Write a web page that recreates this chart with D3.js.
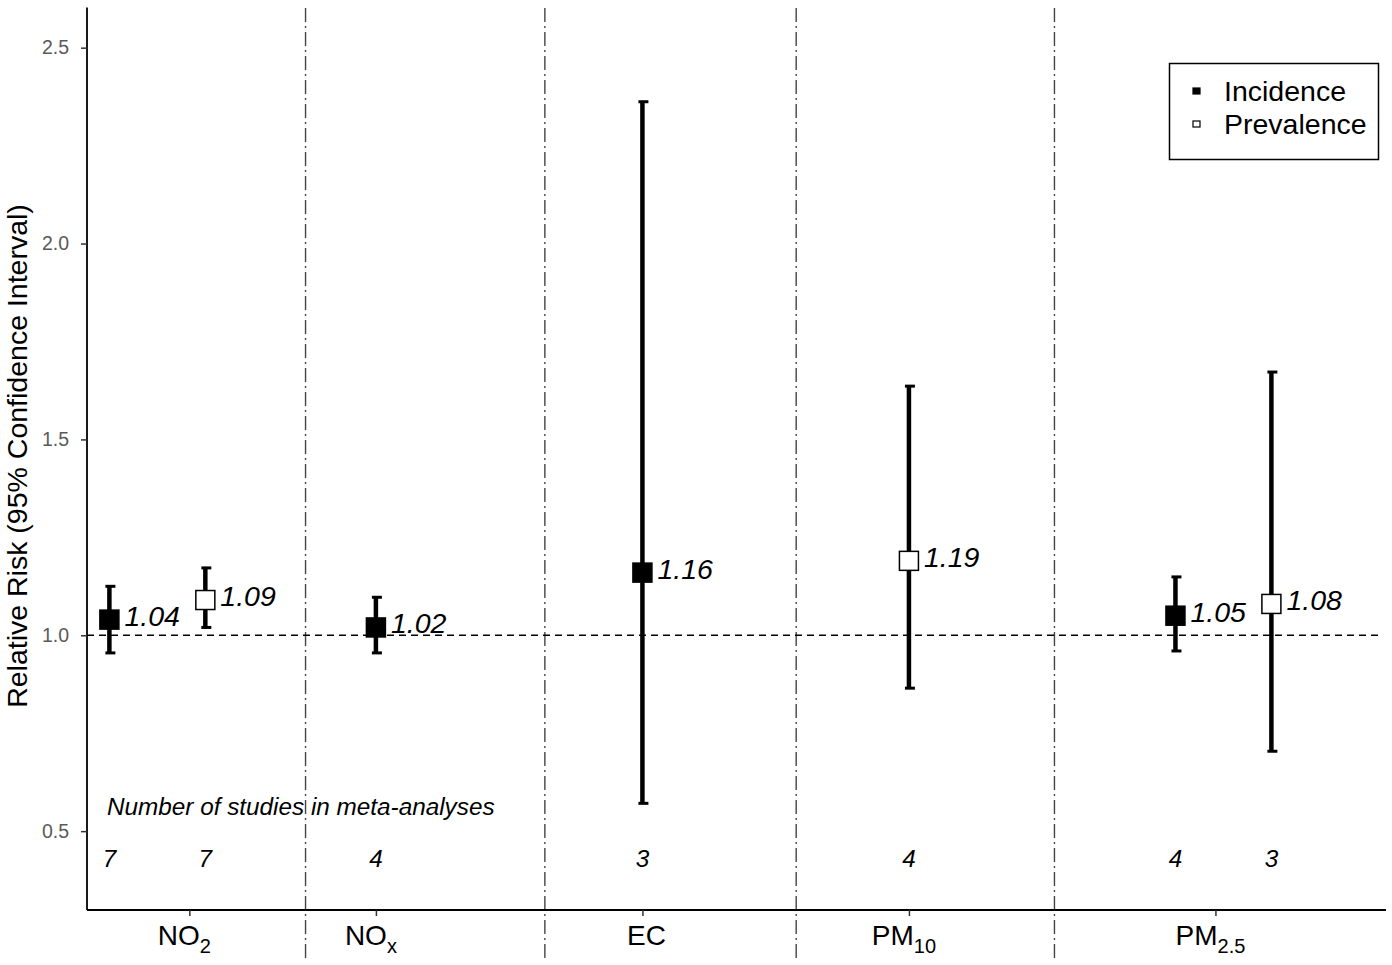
<!DOCTYPE html>
<html>
<head>
<meta charset="utf-8">
<script src="https://cdn.jsdelivr.net/npm/d3@7"></script>
<style>
  html, body { margin: 0; padding: 0; background: #fff; }
  svg { display: block; font-family: "Liberation Sans", Arial, sans-serif; }
</style>
</head>
<body>
<svg id="chart" width="1392" height="965"></svg>
<script>
// ---- data ----
const categories = ["NO2", "NOx", "EC", "PM10", "PM2.5"];
const categoryBase = ["NO", "NO", "EC", "PM", "PM"];
const categorySub = ["2", "x", "", "10", "2.5"];
const categoryTickPos = [1.30, 2.0, 3.0, 4.0, 5.15];
const separatorPos = [1.736, 2.634, 3.577, 4.546];

const pollutant = ["NO2", "NO2", "NOx", "EC", "PM10", "PM2.5", "PM2.5"];
const outcome = ["Incidence", "Prevalence", "Incidence", "Incidence", "Prevalence", "Incidence", "Prevalence"];
const xPos = [1, 1.36, 2, 3, 4, 5, 5.36];
const rr = [1.04, 1.09, 1.02, 1.16, 1.19, 1.05, 1.08];
const lower = [0.955, 1.02, 0.955, 0.571, 0.865, 0.96, 0.704];
const upper = [1.125, 1.172, 1.097, 2.362, 1.636, 1.149, 1.672];
const nStudies = [7, 7, 4, 3, 4, 4, 3];

const yTicks = [0.5, 1.0, 1.5, 2.0, 2.5];
const legendLabels = ["Incidence", "Prevalence"];

// ---- layout ----
const svg = d3.select("#chart");
const mLeft = 87, mRight = 1386, mTop = 8.5, mBottom = 910;

const x = d3.scaleLinear().domain([0.916, 5.79]).range([mLeft, mRight]);
const y = d3.scaleLinear().domain([0.3, 2.6]).range([909.5, 8.5]);

const data = rr.map((v, i) => ({
  pollutant: pollutant[i], outcome: outcome[i], x: xPos[i], rr: v,
  lo: lower[i], hi: upper[i], n: nStudies[i]
}));

// separators (dash-dot)
svg.append("g").selectAll("line").data(separatorPos).join("line")
  .attr("x1", d => x(d)).attr("x2", d => x(d))
  .attr("y1", 8).attr("y2", 962)
  .attr("stroke", "#444").attr("stroke-width", 1.4)
  .attr("stroke-dasharray", "14,4,2,4");

// reference line at 1
svg.append("line")
  .attr("x1", mLeft).attr("x2", 1382)
  .attr("y1", y(1)).attr("y2", y(1))
  .attr("stroke", "#000").attr("stroke-width", 1.6)
  .attr("stroke-dasharray", "7,5");

// y axis
const yAxis = d3.axisLeft(y).tickValues(yTicks).tickFormat(d3.format(".1f")).tickSize(6).tickPadding(12);
const gy = svg.append("g").attr("transform", `translate(${mLeft},0)`).call(yAxis);
gy.select(".domain").attr("d", `M0,${mTop - 1}V${mBottom}`).attr("stroke", "#000").attr("stroke-width", 1.8);
gy.selectAll(".tick line").attr("stroke", "#333").attr("stroke-width", 1.5);
gy.selectAll(".tick text").attr("fill", "#5a5a5a").style("font-size", "19.5px")
  .style("font-family", "'Liberation Sans', Arial, sans-serif");

// x axis
const xAxis = d3.axisBottom(x).tickValues(categoryTickPos).tickFormat("").tickSize(6);
const gx = svg.append("g").attr("transform", `translate(0,${mBottom})`).call(xAxis);
gx.select(".domain").attr("d", `M${mLeft},0H${mRight}`).attr("stroke", "#000").attr("stroke-width", 1.8);
gx.selectAll(".tick line").attr("stroke", "#333").attr("stroke-width", 1.5);

// x labels with subscripts
const xl = svg.append("g").selectAll("text").data(categories).join("text")
  .attr("x", (d, i) => x(categoryTickPos[i]) - (categorySub[i] ? 5 : -4))
  .attr("y", 945)
  .attr("text-anchor", "middle")
  .style("font-size", "28px").attr("fill", "#000");
xl.append("tspan").text((d, i) => categoryBase[i]);
xl.append("tspan").attr("dy", 8).style("font-size", "20px").text((d, i) => categorySub[i]);

// y title
svg.append("text")
  .attr("transform", `translate(27,${456}) rotate(-90)`)
  .attr("text-anchor", "middle")
  .style("font-size", "28.5px").attr("fill", "#000")
  .text("Relative Risk (95% Confidence Interval)");

// error bars
const eb = svg.append("g").selectAll("g").data(data).join("g");
eb.append("line")
  .attr("x1", d => x(d.x)).attr("x2", d => x(d.x))
  .attr("y1", d => y(d.hi)).attr("y2", d => y(d.lo))
  .attr("stroke", "#000").attr("stroke-width", 4.5);
eb.append("line")
  .attr("x1", d => x(d.x) - 4).attr("x2", d => x(d.x) + 6)
  .attr("y1", d => y(d.hi)).attr("y2", d => y(d.hi))
  .attr("stroke", "#000").attr("stroke-width", 3);
eb.append("line")
  .attr("x1", d => x(d.x) - 4).attr("x2", d => x(d.x) + 6)
  .attr("y1", d => y(d.lo)).attr("y2", d => y(d.lo))
  .attr("stroke", "#000").attr("stroke-width", 3);

// points
const sz = 19;
svg.append("g").selectAll("rect").data(data).join("rect")
  .attr("x", d => x(d.x) - sz / 2).attr("y", d => y(d.rr) - sz / 2)
  .attr("width", sz).attr("height", sz)
  .attr("fill", d => d.outcome === "Incidence" ? "#000" : "#fff")
  .attr("stroke", "#000").attr("stroke-width", 1.5);

// value labels
svg.append("g").selectAll("text").data(data).join("text")
  .attr("x", d => x(d.x) + 15).attr("y", d => y(d.rr) - 4)
  .attr("dominant-baseline", "central")
  .style("font-size", "28.5px").style("font-style", "italic").attr("fill", "#000")
  .text(d => d3.format(".2f")(d.rr));

// number of studies
svg.append("text")
  .attr("x", 107).attr("y", y(0.563))
  .attr("dominant-baseline", "central")
  .style("font-size", "24.3px").style("font-style", "italic").attr("fill", "#000")
  .text("Number of studies in meta-analyses");
svg.append("g").selectAll("text").data(data).join("text")
  .attr("x", d => x(d.x)).attr("y", y(0.43))
  .attr("text-anchor", "middle").attr("dominant-baseline", "central")
  .style("font-size", "24.3px").style("font-style", "italic").attr("fill", "#000")
  .text(d => d.n);

// legend
const lg = svg.append("g");
lg.append("rect").attr("x", 1169.5).attr("y", 63.5).attr("width", 209).attr("height", 96)
  .attr("fill", "#fff").attr("stroke", "#000").attr("stroke-width", 1.5);
const li = lg.selectAll("g").data(legendLabels).join("g")
  .attr("transform", (d, i) => `translate(0,${91 + i * 33})`);
li.append("rect").attr("x", 1193).attr("y", -3).attr("width", 7).attr("height", 6)
  .attr("fill", (d, i) => i === 0 ? "#000" : "#fff").attr("stroke", "#000").attr("stroke-width", 1.2);
li.append("text").attr("x", 1224).attr("y", 0).attr("dominant-baseline", "central")
  .style("font-size", "28.5px").attr("fill", "#000").text(d => d);
</script>
</body>
</html>
